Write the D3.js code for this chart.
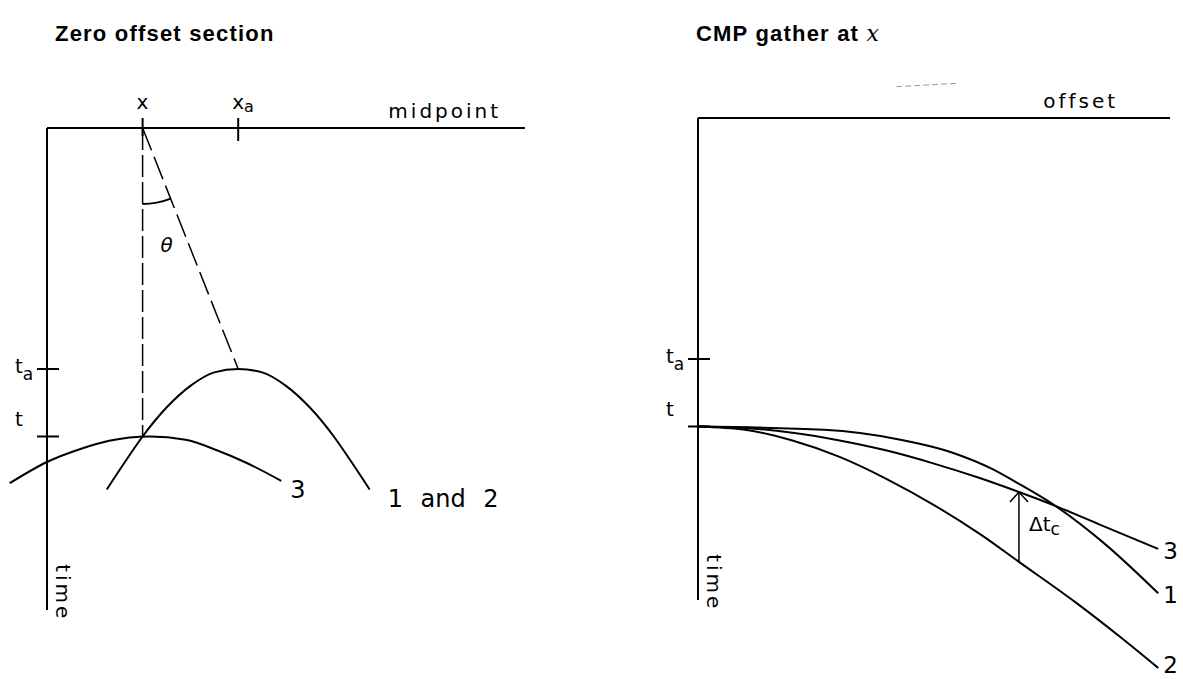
<!DOCTYPE html>
<html>
<head>
<meta charset="utf-8">
<script src="https://cdn.jsdelivr.net/npm/d3@7"></script>
<style>
  body { margin: 0; background: #fff; }
  text { fill: #000; }
  .title { font-family: "Liberation Sans", Arial, sans-serif; font-weight: bold; font-size: 22px; letter-spacing: 1.2px; }
  .lbl { font-family: "DejaVu Sans", sans-serif; font-size: 20px; }
</style>
</head>
<body>
<script>
// ---- data (units: 0..100 along each axis) ----
var leftTitle = "Zero offset section"
var rightTitle = "CMP gather at "

// midpoint ticks on zero offset section
var midTicks = [20, 40]
var midTickLabels = [["x", ""], ["x", "a"]]
// time ticks (both panels)
var timeTicks = [50, 64]
var timeTickLabels = [["t", "a"], ["t", ""]]

// zero offset section: hyperbolas  [midpoint, time]
var zoCurve3 = [[-7.8,73.7],[0,69.3],[7,66.6],[13,64.9],[21.5,64],[29,64.7],[35.4,66.8],[41.8,69.5],[49,73.2]]
var zoCurve12 = [[12.5,75],[16.3,69.3],[20,64],[25,58],[30,53.5],[35,50.7],[40,50],[45,50.7],[50,53.5],[55,58],[60,64],[63.7,69.3],[67.5,75]]
var zoCurveLabels = ["3", "1 and 2"]

// CMP gather: moveout curves  [offset, time]
var cmpCurve3 = [[0,64],[10,64.3],[20,65.3],[30,66.9],[40,69],[50,71.7],[60,74.8],[68,77.6],[75,80.2],[85,84.3],[97.5,89.4]]
var cmpCurve1 = [[0,64],[26.7,64.7],[42.6,66.7],[54.4,69.6],[62.3,72.8],[68,75.9],[75,80],[86,88.2],[97.5,98.6]]
var cmpCurve2 = [[0,64],[10,64.7],[20,66.9],[30,70.3],[40,74.9],[50,80.3],[60,86.5],[68,92.1],[80,100.5],[90,108.1],[97.5,114.1]]
var cmpCurveLabels = ["3", "1", "2"]
var dtcOffset = 68   // where the delta t_c arrow sits

var width = 1183, height = 679

var svg = d3.select("body").append("svg")
    .attr("width", width)
    .attr("height", height)

svg.append("rect").attr("width", width).attr("height", height).attr("fill", "white")

// scales
var xL = d3.scaleLinear().domain([0, 100]).range([47, 525])
var yL = d3.scaleLinear().domain([0, 100]).range([128, 610])
var xR = d3.scaleLinear().domain([0, 100]).range([698, 1170])
var yR = d3.scaleLinear().domain([0, 100]).range([118, 600])

function drawFrame(g, x, y, axisName, nameEnd){
    // top axis and time axis
    g.append("line")
        .attr("x1", x(0)).attr("y1", y(0))
        .attr("x2", x(100)).attr("y2", y(0))
        .attr("stroke", "black").attr("stroke-width", 2)
    g.append("line")
        .attr("x1", x(0)).attr("y1", y(0))
        .attr("x2", x(0)).attr("y2", y(100))
        .attr("stroke", "black").attr("stroke-width", 2)

    g.append("text")
        .attr("class", "lbl")
        .attr("x", x(nameEnd)).attr("y", y(0) - 10)
        .attr("text-anchor", "end")
        .attr("letter-spacing", 3)
        .text(axisName)

    g.append("text")
        .attr("class", "lbl")
        .attr("transform", "translate(" + (x(0) + 9) + "," + (y(90.5)) + ") rotate(90)")
        .attr("letter-spacing", 3)
        .text("time")

    // time ticks
    timeTicks.forEach(function(t, i){
        g.append("line")
            .attr("x1", x(0) - 10).attr("x2", x(0) + 12)
            .attr("y1", y(t)).attr("y2", y(t))
            .attr("stroke", "black").attr("stroke-width", 2)
        var tx = g.append("text")
            .attr("class", "lbl")
            .attr("x", x(0) - 32)
            .attr("y", i == 0 ? y(t) + 4 : y(t) - 10)
            .text(timeTickLabels[i][0])
        if (timeTickLabels[i][1] != ""){
            tx.append("tspan").attr("dy", 7).style("font-size", "17px").text(timeTickLabels[i][1])
        }
    })
}

var line = d3.line().curve(d3.curveMonotoneX)

// ===== left panel =====
var left = svg.append("g")
left.append("text").attr("class", "title").attr("x", 55).attr("y", 41).text(leftTitle)
drawFrame(left, xL, yL, "midpoint", 95)

midTicks.forEach(function(m, i){
    left.append("line")
        .attr("x1", xL(m)).attr("x2", xL(m))
        .attr("y1", yL(0) - 10).attr("y2", yL(0) + (i == 0 ? 8 : 13))
        .attr("stroke", "black").attr("stroke-width", 2)
    var tx = left.append("text")
        .attr("class", "lbl")
        .attr("x", xL(m) - 6).attr("y", yL(0) - 19)
        .text(midTickLabels[i][0])
    if (midTickLabels[i][1] != ""){
        tx.append("tspan").attr("dy", 3).style("font-size", "16px").text(midTickLabels[i][1])
    }
})

// dashed rays from x
left.append("line")
    .attr("x1", xL(midTicks[0])).attr("y1", yL(0))
    .attr("x2", xL(midTicks[0])).attr("y2", yL(timeTicks[1]))
    .attr("stroke", "black").attr("stroke-width", 1.5)
    .attr("stroke-dasharray", "22,5")
left.append("line")
    .attr("x1", xL(midTicks[0])).attr("y1", yL(0))
    .attr("x2", xL(midTicks[1])).attr("y2", yL(timeTicks[0]))
    .attr("stroke", "black").attr("stroke-width", 1.5)
    .attr("stroke-dasharray", "24,7")

// theta arc
var cx = xL(midTicks[0]), cy = yL(0)
var ang = Math.atan2(yL(timeTicks[0]) - cy, xL(midTicks[1]) - cx)
var p = d3.path()
p.arc(cx, cy, 76, Math.PI / 2, ang, true)
left.append("path").attr("d", p.toString())
    .attr("fill", "none").attr("stroke", "black").attr("stroke-width", 2)
left.append("text").attr("class", "lbl")
    .attr("x", xL(midTicks[0]) + 18).attr("y", yL(0) + 124)
    .style("font-style", "italic")
    .style("font-size", "20px")
    .text("θ")

var zoCurves = [zoCurve3, zoCurve12]
var zoLabelGap = [9, 18]
zoCurves.forEach(function(c, i){
    left.append("path")
        .attr("d", line(c.map(function(d){ return [xL(d[0]), yL(d[1])] })))
        .attr("fill", "none").attr("stroke", "black").attr("stroke-width", 2)
    var last = c[c.length - 1]
    left.append("text").attr("class", "lbl")
        .attr("x", xL(last[0]) + zoLabelGap[i]).attr("y", yL(last[1]) + 17)
        .style("font-size", "24px")
        .attr("word-spacing", 10)
        .text(zoCurveLabels[i])
})

// ===== right panel =====
var right = svg.append("g")
var rt = right.append("text").attr("class", "title").attr("x", 696).attr("y", 41).text(rightTitle)
rt.append("tspan")
    .attr("font-family", "DejaVu Serif, serif")
    .attr("font-style", "italic").attr("font-weight", "normal")
    .text("x")
drawFrame(right, xR, yR, "offset", 89)

// faint scan mark above the offset label
right.append("line")
    .attr("x1", xR(42)).attr("x2", xR(55))
    .attr("y1", yR(-6.5)).attr("y2", yR(-7.2))
    .attr("stroke", "#999").attr("stroke-width", 1)
    .attr("stroke-dasharray", "6,3")

var cmpCurves = [cmpCurve3, cmpCurve1, cmpCurve2]
cmpCurves.forEach(function(c, i){
    right.append("path")
        .attr("d", line(c.map(function(d){ return [xR(d[0]), yR(d[1])] })))
        .attr("fill", "none").attr("stroke", "black").attr("stroke-width", 2)
    var last = c[c.length - 1]
    right.append("text").attr("class", "lbl")
        .attr("x", xR(last[0]) + 5).attr("y", Math.min(yR(last[1]) + 10, height - 6))
        .style("font-size", "23px")
        .text(cmpCurveLabels[i])
})

// delta t_c arrow between curve 2 and curve 3
var top3 = cmpCurve3.find(function(d){ return d[0] == dtcOffset })
var bot2 = cmpCurve2.find(function(d){ return d[0] == dtcOffset })
var ax = xR(dtcOffset)
right.append("line")
    .attr("x1", ax).attr("x2", ax)
    .attr("y1", yR(bot2[1])).attr("y2", yR(top3[1]))
    .attr("stroke", "black").attr("stroke-width", 1.5)
right.append("path")
    .attr("d", "M" + (ax - 9) + "," + (yR(top3[1]) + 10) + "L" + ax + "," + yR(top3[1]) + "L" + (ax + 9) + "," + (yR(top3[1]) + 10))
    .attr("fill", "none").attr("stroke", "black").attr("stroke-width", 1.5)
var dt = right.append("text").attr("class", "lbl")
    .attr("x", ax + 10).attr("y", yR((top3[1] + bot2[1]) / 2) + 4)
    .text("Δt")
dt.append("tspan").attr("dy", 4).style("font-size", "17px").text("c")
</script>
</body>
</html>
